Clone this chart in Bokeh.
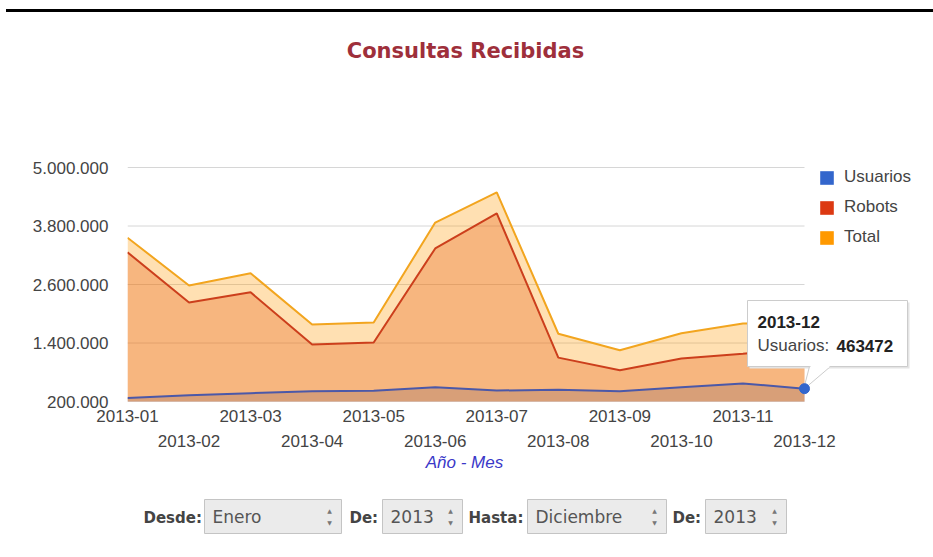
from bokeh.plotting import figure
from bokeh.layouts import column
from bokeh.models import (FixedTicker, LinearAxis, Legend, LegendItem, Label,
                          ColumnDataSource, Range1d, PolyAnnotation, BoxAnnotation,
                          Spacer, Div)
from bokeh.embed import file_html
from bokeh.resources import INLINE

# ---------------- data ----------------
months = ["2013-01", "2013-02", "2013-03", "2013-04", "2013-05", "2013-06",
          "2013-07", "2013-08", "2013-09", "2013-10", "2013-11", "2013-12"]
usuarios = [270000, 330000, 370000, 410000, 420000, 490000,
            425000, 440000, 410000, 490000, 570000, 463472]
robots = [3260000, 2230000, 2440000, 1370000, 1410000, 3340000,
          4060000, 1100000, 840000, 1080000, 1180000, 1300000]
total = [3560000, 2580000, 2830000, 1780000, 1820000, 3870000,
         4490000, 1590000, 1250000, 1600000, 1800000, 1820000]
y_ticks = [200000, 1400000, 2600000, 3800000, 5000000]
y_tick_labels = ["200.000", "1.400.000", "2.600.000", "3.800.000", "5.000.000"]
series_names = ["Usuarios", "Robots", "Total"]
series_keys = ["usuarios", "robots", "total"]
series_colors = ["#3366cc", "#dc3912", "#ff9900"]
line_colors = ["#4b58a8", "#cc3f1c", "#f2a51f"]
title_text = "Consultas Recibidas"
x_title = "Año - Mes"
form_parts = [("Desde:", "Enero"), ("De:", "2013"), ("Hasta:", "Diciembre"), ("De:", "2013")]

xs = list(range(len(months)))
src = ColumnDataSource(dict(x=xs, usuarios=usuarios, robots=robots, total=total))

W = 933
lab_font = "Liberation Sans"

# ---------------- layout geometry (pixels) ----------------
RULE_Y, RULE_H = 9, 3
F1_TOP, F1_BOT = RULE_Y + RULE_H, 453
FL, FB = 127, 401     # frame left / bottom (page px)
Y_PX = 234            # pixel height between first and last y tick
X_PX = 677            # pixel width between first and last month

# ---------------- top rule ----------------
rule = Div(text="", width=W - 6, height=RULE_H, margin=(0, 0, 0, 6),
           styles={"background-color": "black"})

# ---------------- main chart ----------------
frame_h = FB - F1_TOP
frame_w = W - FL
y_span = y_ticks[-1] - y_ticks[0]
y_top = y_ticks[0] + y_span * frame_h / Y_PX
x_end = (len(xs) - 1) * frame_w / X_PX

p = figure(width=W, height=F1_BOT - F1_TOP, output_backend="svg", toolbar_location=None,
           x_range=Range1d(0, x_end), y_range=Range1d(y_ticks[0], y_top),
           min_border_left=FL, min_border_right=0, min_border_top=0,
           min_border_bottom=F1_BOT - FB, outline_line_color=None,
           background_fill_color="white", border_fill_color="white")
p.grid.visible = False

# gridlines (under the areas)
gsrc = ColumnDataSource(dict(y=y_ticks))
p.segment(x0=xs[0], x1=xs[-1], y0="y", y1="y", source=gsrc,
          line_color="#d6d6d6", line_width=1)

# overlapping areas, Google-style 0.3 opacity
for key, col in zip(series_keys, series_colors):
    p.varea(x="x", y1=0, y2=key, source=src, fill_color=col, fill_alpha=0.3)
for key, col in zip(series_keys, line_colors):
    p.line(x="x", y=key, source=src, line_color=col, line_width=2)

# axes
ya = p.yaxis[0]
ya.ticker = FixedTicker(ticks=y_ticks)
ya.major_label_overrides = {t: l for t, l in zip(y_ticks, y_tick_labels)}
xa1 = p.xaxis[0]
xa1.ticker = FixedTicker(ticks=xs[0::2])
xa1.major_label_overrides = {i: months[i] for i in xs[0::2]}
xa2 = LinearAxis(ticker=FixedTicker(ticks=xs[1::2]))
xa2.major_label_overrides = {i: months[i] for i in xs[1::2]}
p.add_layout(xa2, "below")
for ax in (ya, xa1, xa2):
    ax.axis_line_color = None
    ax.major_tick_line_color = None
    ax.minor_tick_line_color = None
    ax.major_tick_out = 0
    ax.major_label_text_font = lab_font
    ax.major_label_text_font_size = "17px"
    ax.major_label_text_color = "#444444"
ya.major_label_standoff = 19
xa1.major_label_standoff = 8
xa2.major_label_standoff = 10

# legend (proxy areas sit below the visible range, only used for swatches)
items = []
for name, col in zip(series_names, series_colors):
    r = p.varea(x="x", y1=0, y2=0, source=src, fill_color=col, fill_alpha=1.0)
    items.append(LegendItem(label=name, renderers=[r]))
legend = Legend(items=items, location=(818 - FL, FB - 247), margin=0, padding=2,
                glyph_width=17, glyph_height=17, label_height=17, spacing=10,
                label_standoff=9, label_text_font=lab_font,
                label_text_font_size="17px", label_text_color="#444444",
                border_line_color=None, background_fill_alpha=0)
p.add_layout(legend)


def lab(fig, ox, oy, text, px, py, size, color, style="normal", font=lab_font,
        align="left", baseline="middle"):
    fig.add_layout(Label(x=px - ox, y=oy - py, x_units="screen", y_units="screen",
                         text=text, text_font=font, text_font_size=f"{size}px",
                         text_color=color, text_font_style=style,
                         text_align=align, text_baseline=baseline))


def box(fig, ox, oy, px0, py0, px1, py1, fill, line):
    fig.add_layout(BoxAnnotation(left=px0 - ox, right=px1 - ox,
                                 top=oy - py0, bottom=oy - py1,
                                 left_units="screen", right_units="screen",
                                 top_units="screen", bottom_units="screen",
                                 fill_color=fill, fill_alpha=1,
                                 line_color=line, line_alpha=1, line_width=1))


# title
lab(p, FL, FB, title_text, 465, 50, 21, "#9e2f3b", style="bold",
    font="DejaVu Sans", align="center")

# tooltip
box(p, FL, FB, 749, 302, 909, 368, "#e4e4e4", None)
box(p, FL, FB, 747, 300, 907, 366, "white", "#cccccc")
p.add_layout(PolyAnnotation(xs=[809 - FL, 830 - FL, 803 - FL],
                            ys=[FB - 366, FB - 366, FB - 389],
                            xs_units="screen", ys_units="screen",
                            fill_color="white", fill_alpha=1,
                            line_color="#cccccc", line_alpha=1, line_width=1))
box(p, FL, FB, 810, 364, 829, 367, "white", None)
lab(p, FL, FB, months[-1], 757, 321, 17, "#222222", style="bold")
lab(p, FL, FB, f"{series_names[0]}: ", 757, 345, 17, "#444444")
lab(p, FL, FB, f"{usuarios[-1]}", 836, 345, 17, "#222222", style="bold")

# highlighted point, drawn above the tooltip tail
p.scatter(x=[xs[-1]], y=[usuarios[-1]], size=10, fill_color="#3366cc",
          line_color="#3366cc", level="overlay")

# ---------------- axis title + form strip ----------------
# (the column layout aligns this plot's frame with the chart frame at FL)
H2 = 557 - F1_BOT
p2 = figure(width=W, height=H2, output_backend="svg", toolbar_location=None,
            x_axis_type=None, y_axis_type=None, min_border=0,
            outline_line_color=None, border_fill_color="white",
            background_fill_color="white")
p2.grid.visible = False
O2Y = 557   # page y of p2's bottom edge

lab(p2, FL, O2Y, x_title, 464, 462, 17, "#3a37c8", style="italic", align="center")

label_x = [143, 349, 468, 672]
box_x = [(204, 341), (382, 462), (527, 666), (705, 786)]
for (lt, vt), lx, (b0, b1) in zip(form_parts, label_x, box_x):
    lab(p2, FL, O2Y, lt, lx, 517, 15, "#444444", style="bold", font="DejaVu Sans")
    box(p2, FL, O2Y, b0, 499, b1, 533, "#ebebeb", "#c4c4c4")
    lab(p2, FL, O2Y, vt, b0 + 8, 516, 17, "#555555", font="DejaVu Sans")
    lab(p2, FL, O2Y, "▲", b1 - 12, 510, 6, "#777777", font="DejaVu Sans", align="center")
    lab(p2, FL, O2Y, "▼", b1 - 12, 522, 6, "#777777", font="DejaVu Sans", align="center")

layout = column(Spacer(height=RULE_Y), rule, p, p2, spacing=0)
open("out.html", "w").write(file_html(layout, INLINE))
